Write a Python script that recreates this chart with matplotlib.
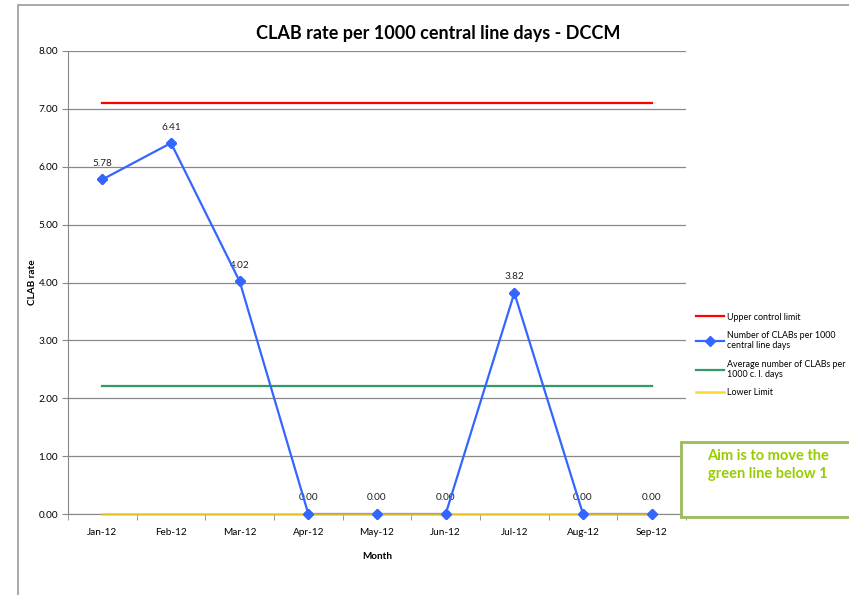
import matplotlib
matplotlib.use("Agg")
import matplotlib.pyplot as plt
from matplotlib.patches import Rectangle

plt.rcParams["font.family"] = ["Lato", "DejaVu Sans"]

months = ["Jan-12", "Feb-12", "Mar-12", "Apr-12", "May-12", "Jun-12", "Jul-12", "Aug-12", "Sep-12"]
clab_rate = [5.78, 6.41, 4.02, 0.00, 0.00, 0.00, 3.82, 0.00, 0.00]
upper_limit = [7.1] * len(months)
average_rate = [2.22] * len(months)
lower_limit = [0.0] * len(months)

W, H = 849, 595
fig = plt.figure(figsize=(W / 100, H / 100), dpi=100)
ax = fig.add_axes([68 / W, 1 - 514 / H, (686 - 68) / W, (514 - 51) / H])

x = list(range(len(months)))
ax.plot(x, upper_limit, color="#FF0000", lw=1.6, label="Upper control limit", zorder=3)
ax.plot(x, clab_rate, color="#3366FF", lw=1.6, marker="D", ms=5.5, clip_on=False,
        label="Number of CLABs per 1000\ncentral line days", zorder=4)
ax.plot(x, average_rate, color="#339966", lw=1.6,
        label="Average number of CLABs per\n1000 c. l. days", zorder=3)
ax.plot(x, lower_limit, color="#FFCC00", lw=1.8, alpha=0.8, label="Lower Limit", zorder=5, clip_on=False)
# markers on top of the lower limit line
ax.plot(x, clab_rate, ls="none", color="#3366FF", marker="D", ms=5.5, clip_on=False, zorder=6)

for xi, v in zip(x, clab_rate):
    ax.annotate(f"{v:.2f}", (xi, v), xytext=(0, 16), textcoords="offset pixels",
                ha="center", va="center", fontsize=7.2, color="#222222")

ax.set_xlim(-0.5, len(months) - 0.5)
ax.set_ylim(0, 8)
ax.set_yticks(range(0, 9))
ax.set_yticklabels([f"{v:.2f}" for v in range(0, 9)], fontsize=7.2)
ax.set_xticks(x)
ax.set_xticklabels(months, fontsize=7.2)
ax.set_xticks([i + 0.5 for i in range(-1, len(months))], minor=True)
ax.tick_params(axis="x", which="major", length=0, pad=10)
ax.tick_params(axis="x", which="minor", length=4, color="#888888", direction="out")
ax.tick_params(axis="y", length=4, color="#888888", direction="out", pad=3)
ax.grid(axis="y", color="#888888", lw=0.9)
ax.set_axisbelow(True)
for s in ["top", "right"]:
    ax.spines[s].set_visible(False)
for s in ["left", "bottom"]:
    ax.spines[s].set_color("#888888")

ax.set_ylabel("CLAB rate", fontsize=7.2, fontweight="bold", labelpad=1)
ax.set_xlabel("Month", fontsize=7.2, fontweight="bold", labelpad=11)
fig.text(438 / W, 1 - 33 / H, "CLAB rate per 1000 central line days - DCCM",
         ha="center", va="center", fontsize=13, fontweight="bold")

ax.legend(loc="upper left", bbox_to_anchor=(692 / W, 1 - 309 / H),
          bbox_transform=fig.transFigure, frameon=False, fontsize=6.4,
          handlelength=3.2, handletextpad=0.3, labelspacing=1.05, borderaxespad=0)

# outer chart border
fig.patches.append(Rectangle((18 / W, -0.1), 1.2, (H - 5) / H + 0.1, transform=fig.transFigure,
                             fill=False, edgecolor="#999999", lw=1.2))

# annotation box
fig.patches.append(Rectangle((681 / W, 1 - 517 / H), 0.3, (517 - 442) / H, transform=fig.transFigure,
                             fill=True, facecolor="white", edgecolor="#9BBB59", lw=2, zorder=10))
fig.text(768 / W, 1 - 465 / H, "Aim is to move the\ngreen line below 1", ha="center", va="center",
         fontsize=10.5, fontweight="bold", color="#99CC00", linespacing=1.45, zorder=11)

fig.savefig("out.png", dpi=100)
